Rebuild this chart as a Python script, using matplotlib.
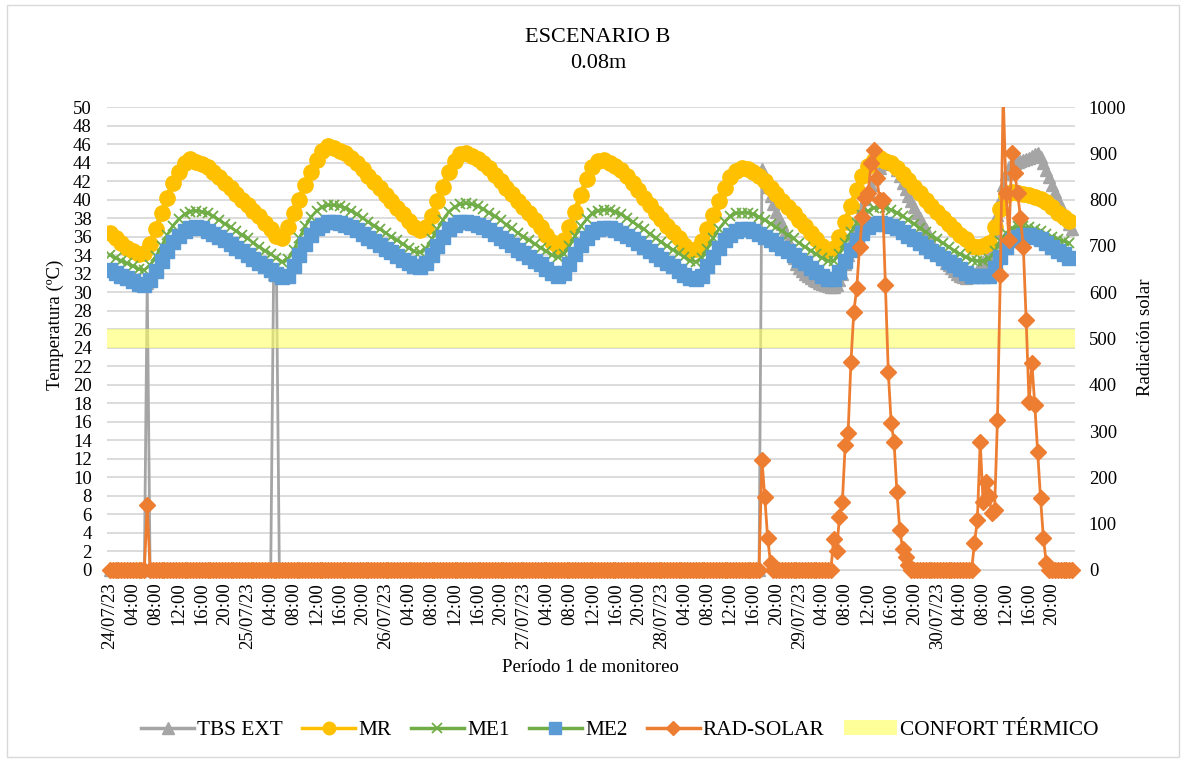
import matplotlib.pyplot as plt
from matplotlib.lines import Line2D
from matplotlib.patches import Patch, Rectangle
from matplotlib.transforms import Bbox, TransformedBbox

plt.rcParams['font.family'] = ['Liberation Serif', 'DejaVu Serif']

# fechas de las etiquetas del eje x (cada 4 horas)
days = ['24/07/23', '25/07/23', '26/07/23', '27/07/23', '28/07/23', '29/07/23', '30/07/23']
hour_marks = ['04:00', '08:00', '12:00', '16:00', '20:00']

# temperaturas horarias (ºC), 24/07 00:00 -> 30/07 23:00
mr = [36.4, 35.8, 35.3, 34.8, 34.4, 34.1, 34.2, 35.2, 36.8, 38.5, 40.2, 41.8,
      43.0, 44.0, 44.4, 44.1, 43.8, 43.5, 43.0, 42.4, 41.8, 41.2, 40.6, 40.0,
      39.4, 38.8, 38.2, 37.5, 36.8, 36.1, 35.9, 37.0, 38.5, 40.0, 41.6, 43.0,
      44.3, 45.3, 45.8, 45.6, 45.3, 45.0, 44.5, 44.0, 43.3, 42.6, 41.9, 41.2,
      40.5, 39.8, 39.1, 38.4, 37.7, 37.0, 36.7, 37.0, 38.2, 39.8, 41.4, 43.0,
      44.2, 44.9, 45.0, 44.7, 44.4, 44.0, 43.4, 42.7, 42.0, 41.3, 40.6, 39.9,
      39.2, 38.5, 37.8, 37.0, 36.2, 35.4, 35.0, 35.6, 37.0, 38.7, 40.5, 42.2,
      43.5, 44.2, 44.3, 44.0, 43.6, 43.2, 42.5, 41.8, 41.0, 40.2, 39.4, 38.6,
      37.9, 37.2, 36.5, 35.8, 35.1, 34.6, 34.7, 35.5, 36.8, 38.3, 39.8, 41.2,
      42.4, 43.1, 43.4, 43.3, 43.0, 42.6, 42.0, 41.3, 40.6, 39.9, 39.2, 38.5,
      37.8, 37.1, 36.4, 35.7, 35.0, 34.6, 34.8, 36.0, 37.6, 39.3, 41.0, 42.5,
      43.6, 44.3, 44.5, 44.2, 43.9, 43.4, 42.8, 42.1, 41.4, 40.7, 40.0, 39.3,
      38.7, 38.0, 37.4, 36.8, 36.2, 35.7, 35.0, 34.9, 35.0, 35.3, 37.0, 39.0,
      40.5, 40.8, 40.7, 40.6, 40.5, 40.3, 40.1, 39.7, 39.2, 38.6, 38.1, 37.7]

me1 = [34.0, 33.7, 33.4, 33.1, 32.8, 32.5, 32.4, 32.9, 33.9, 35.0, 36.2, 37.2,
       37.9, 38.4, 38.7, 38.8, 38.7, 38.5, 38.2, 37.8, 37.4, 37.0, 36.6, 36.2,
       35.8, 35.3, 34.9, 34.5, 34.1, 33.7, 33.3, 33.6, 34.6, 35.9, 37.1, 38.1,
       38.8, 39.2, 39.4, 39.4, 39.3, 39.1, 38.8, 38.4, 38.0, 37.6, 37.2, 36.8,
       36.4, 36.0, 35.6, 35.2, 34.8, 34.4, 34.3, 34.7, 35.7, 36.8, 37.8, 38.7,
       39.2, 39.5, 39.6, 39.5, 39.3, 39.0, 38.6, 38.2, 37.8, 37.3, 36.9, 36.4,
       36.0, 35.6, 35.2, 34.8, 34.4, 34.0, 33.8, 34.1, 35.0, 36.1, 37.1, 37.9,
       38.5, 38.8, 38.9, 38.9, 38.7, 38.4, 38.0, 37.6, 37.2, 36.8, 36.3, 35.9,
       35.4, 35.0, 34.6, 34.2, 33.8, 33.4, 33.3, 33.7, 34.7, 35.8, 36.8, 37.6,
       38.2, 38.5, 38.6, 38.6, 38.4, 38.1, 37.8, 37.4, 37.0, 36.6, 36.2, 35.8,
       35.3, 34.9, 34.5, 34.1, 33.7, 33.4, 33.4, 34.1, 35.3, 36.5, 37.5, 38.3,
       38.8, 39.1, 39.2, 39.1, 38.9, 38.6, 38.2, 37.8, 37.4, 36.9, 36.5, 36.1,
       35.7, 35.3, 34.9, 34.5, 34.1, 33.8, 33.5, 33.4, 33.4, 33.6, 34.4, 35.5,
       36.4, 36.9, 37.1, 37.1, 37.0, 36.8, 36.6, 36.3, 36.0, 35.7, 35.5, 35.3]

me2 = [32.4, 32.1, 31.8, 31.5, 31.2, 30.9, 30.8, 31.3, 32.3, 33.4, 34.5, 35.4,
       36.1, 36.6, 36.9, 37.0, 36.9, 36.6, 36.3, 36.0, 35.6, 35.2, 34.8, 34.4,
       34.0, 33.6, 33.2, 32.8, 32.4, 32.0, 31.6, 31.8, 32.8, 34.0, 35.2, 36.2,
       36.9, 37.3, 37.6, 37.6, 37.5, 37.3, 37.0, 36.7, 36.3, 35.9, 35.5, 35.1,
       34.7, 34.3, 33.9, 33.5, 33.1, 32.8, 32.7, 33.1, 34.0, 35.0, 36.0, 36.8,
       37.3, 37.6, 37.6, 37.5, 37.3, 37.0, 36.7, 36.3, 35.9, 35.5, 35.1, 34.6,
       34.2, 33.8, 33.4, 33.0, 32.5, 32.1, 31.8, 32.1, 33.0, 34.1, 35.1, 35.9,
       36.5, 36.8, 36.9, 36.9, 36.7, 36.4, 36.1, 35.7, 35.3, 34.9, 34.5, 34.0,
       33.6, 33.2, 32.8, 32.3, 31.9, 31.5, 31.4, 31.8, 32.8, 33.8, 34.8, 35.6,
       36.2, 36.6, 36.8, 36.8, 36.6, 36.3, 36.0, 35.6, 35.2, 34.8, 34.4, 34.0,
       33.5, 33.1, 32.6, 32.2, 31.8, 31.4, 31.4, 32.2, 33.4, 34.6, 35.6, 36.4,
       37.0, 37.4, 37.5, 37.4, 37.2, 36.9, 36.5, 36.1, 35.7, 35.3, 34.9, 34.5,
       34.1, 33.7, 33.3, 32.9, 32.5, 32.1, 31.8, 31.7, 31.7, 31.8, 32.6, 33.8,
       34.9, 35.6, 36.0, 36.2, 36.2, 36.0, 35.7, 35.3, 34.9, 34.5, 34.1, 33.7]

# datos cada 30 min (336 registros)
tbs_ext = [0, 0, 0, 0, 0, 0, 0, 0, 0, 0, 0, 0, 0, 31, 0, 0,
           0, 0, 0, 0, 0, 0, 0, 0, 0, 0, 0, 0, 0, 0, 0, 0,
           0, 0, 0, 0, 0, 0, 0, 0, 0, 0, 0, 0, 0, 0, 0, 0,
           0, 0, 0, 0, 0, 0, 0, 0, 0, 32, 32, 0, 0, 0, 0, 0,
           0, 0, 0, 0, 0, 0, 0, 0, 0, 0, 0, 0, 0, 0, 0, 0,
           0, 0, 0, 0, 0, 0, 0, 0, 0, 0, 0, 0, 0, 0, 0, 0,
           0, 0, 0, 0, 0, 0, 0, 0, 0, 0, 0, 0, 0, 0, 0, 0,
           0, 0, 0, 0, 0, 0, 0, 0, 0, 0, 0, 0, 0, 0, 0, 0,
           0, 0, 0, 0, 0, 0, 0, 0, 0, 0, 0, 0, 0, 0, 0, 0,
           0, 0, 0, 0, 0, 0, 0, 0, 0, 0, 0, 0, 0, 0, 0, 0,
           0, 0, 0, 0, 0, 0, 0, 0, 0, 0, 0, 0, 0, 0, 0, 0,
           0, 0, 0, 0, 0, 0, 0, 0, 0, 0, 0, 0, 0, 0, 0, 0,
           0, 0, 0, 0, 0, 0, 0, 0, 0, 0, 0, 0, 0, 0, 0, 0,
           0, 0, 0, 0, 0, 0, 0, 0, 0, 0, 0, 0, 0, 0, 0, 0,
           0, 0, 0, 43.3, 42.4, 41.4, 40.4, 39.5, 38.7, 38.0, 37.4, 36.5, 35.6, 34.6, 33.7, 33.0,
           32.6, 32.3, 32.0, 31.7, 31.5, 31.3, 31.2, 31.0, 30.9, 30.8, 30.7, 30.6, 30.6, 30.8, 31.3, 32.0,
           33.0, 34.0, 35.0, 36.1, 37.2, 38.2, 39.2, 40.1, 40.9, 41.6, 42.3, 42.9, 43.4, 43.8, 44.1, 44.3,
           44.2, 43.8, 43.2, 42.5, 41.8, 41.1, 40.4, 39.8, 39.2, 38.6, 38.0, 37.4, 36.8, 36.2, 35.4, 34.9,
           34.4, 34.0, 33.6, 33.2, 32.9, 32.6, 32.3, 32.0, 31.8, 31.6, 31.5, 31.6, 31.8, 32.0, 32.3, 32.8,
           33.3, 33.5, 33.9, 34.8, 36.5, 38.3, 40.0, 41.6, 42.8, 43.5, 43.9, 44.0, 44.1, 44.2, 44.3, 44.4,
           44.5, 44.7, 44.9, 45.0, 44.6, 43.9, 43.2, 42.4, 41.6, 40.8, 40.0, 39.3, 38.6, 38.0, 37.4, 36.8]

rad_solar = [0, 0, 0, 0, 0, 0, 0, 0, 0, 0, 0, 0, 0, 140, 0, 0,
             0, 0, 0, 0, 0, 0, 0, 0, 0, 0, 0, 0, 0, 0, 0, 0,
             0, 0, 0, 0, 0, 0, 0, 0, 0, 0, 0, 0, 0, 0, 0, 0,
             0, 0, 0, 0, 0, 0, 0, 0, 0, 0, 0, 0, 0, 0, 0, 0,
             0, 0, 0, 0, 0, 0, 0, 0, 0, 0, 0, 0, 0, 0, 0, 0,
             0, 0, 0, 0, 0, 0, 0, 0, 0, 0, 0, 0, 0, 0, 0, 0,
             0, 0, 0, 0, 0, 0, 0, 0, 0, 0, 0, 0, 0, 0, 0, 0,
             0, 0, 0, 0, 0, 0, 0, 0, 0, 0, 0, 0, 0, 0, 0, 0,
             0, 0, 0, 0, 0, 0, 0, 0, 0, 0, 0, 0, 0, 0, 0, 0,
             0, 0, 0, 0, 0, 0, 0, 0, 0, 0, 0, 0, 0, 0, 0, 0,
             0, 0, 0, 0, 0, 0, 0, 0, 0, 0, 0, 0, 0, 0, 0, 0,
             0, 0, 0, 0, 0, 0, 0, 0, 0, 0, 0, 0, 0, 0, 0, 0,
             0, 0, 0, 0, 0, 0, 0, 0, 0, 0, 0, 0, 0, 0, 0, 0,
             0, 0, 0, 0, 0, 0, 0, 0, 0, 0, 0, 0, 0, 0, 0, 0,
             0, 0, 0, 238, 158, 69, 15, 0, 0, 0, 0, 0, 0, 0, 0, 0,
             0, 0, 0, 0, 0, 0, 0, 0, 0, 0, 0, 0, 68, 40, 115, 147,
             270, 295, 450, 558, 608, 698, 763, 803, 814, 878, 907, 846, 800, 799, 616, 428,
             317, 277, 169, 86, 46, 28, 10, 0, 0, 0, 0, 0, 0, 0, 0, 0,
             0, 0, 0, 0, 0, 0, 0, 0, 0, 0, 0, 0, 0, 58, 108, 277,
             147, 190, 160, 123, 130, 324, 637, 1030, 815, 712, 900, 857, 815, 761, 698, 540,
             363, 447, 356, 255, 155, 69, 15, 0, 0, 0, 0, 0, 0, 0, 0, 0]

hours = list(range(len(mr)))
half_hours = [i / 2 for i in range(len(rad_solar))]

tick_pos = list(range(0, 168, 4))
tick_labels = []
for d in days:
    tick_labels += [d] + hour_marks

fig = plt.figure(figsize=(11.86, 7.62), dpi=100)
ax = fig.add_axes([107 / 1186, 192 / 762, 968 / 1186, 463 / 762])

# caja que deja ver los marcadores en cero por debajo del eje
clip = TransformedBbox(Bbox([[-0.02, -0.05], [1.02, 1.0]]), ax.transAxes)

l_tbs, = ax.plot(half_hours, tbs_ext, color='#A5A5A5', lw=2, marker='^', ms=9, zorder=2)
l_tbs.set_clip_box(clip)
ax.plot(hours, mr, color='#FFC000', lw=4, marker='o', ms=11, zorder=3)
ax.plot(hours, me1, color='#70AD47', lw=2, marker='x', ms=7, mew=1.3, zorder=4)
ax.plot(hours, me2, color='#5B9BD5', lw=4, marker='s', ms=10,
        mfc='#5B9BD5', mec='#5B9BD5', zorder=5)
ax.axhspan(24, 26, color='#FFFF66', alpha=0.6, lw=0, zorder=6)

ax.set_xlim(-0.5, 168)
ax.set_ylim(0, 50)
ax.set_yticks(range(0, 51, 2))
ax.set_xticks(tick_pos)
ax.set_xticklabels(tick_labels, rotation=90)
ax.yaxis.grid(True, color='#D9D9D9', lw=1.3)
ax.set_axisbelow(True)
for s in ['top', 'left', 'right']:
    ax.spines[s].set_visible(False)
ax.spines['bottom'].set_color('#D9D9D9')
ax.tick_params(axis='y', length=0, pad=11, labelsize=13.5)
ax.tick_params(axis='x', length=0, pad=9, labelsize=13.5)

ax2 = ax.twinx()
l_rad, = ax2.plot(half_hours, rad_solar, color='#ED7D31', lw=2, marker='D', ms=8, zorder=3)
l_rad.set_clip_box(clip)
ax2.set_ylim(0, 1000)
ax2.set_yticks(range(0, 1001, 100))
for s in ax2.spines.values():
    s.set_visible(False)
ax2.tick_params(axis='y', length=0, pad=10, labelsize=13.5)

# textos
fig.text(598 / 1186, 1 - 38 / 762, 'ESCENARIO B', ha='center', va='center', fontsize=16)
fig.text(598 / 1186, 1 - 63 / 762, '0.08m', ha='center', va='center', fontsize=16)
fig.text(55 / 1186, 1 - 325 / 762, 'Temperatura (ºC)', rotation=90,
         ha='center', va='center', fontsize=13.5)
fig.text(1145 / 1186, 1 - 337 / 762, 'Radiación solar', rotation=90,
         ha='center', va='center', fontsize=13.5)
fig.text(590 / 1186, 1 - 667 / 762, 'Período 1 de monitoreo',
         ha='center', va='center', fontsize=13.5)

handles = [
    Line2D([], [], color='#A5A5A5', lw=2.5, marker='^', ms=9),
    Line2D([], [], color='#FFC000', lw=2.5, marker='o', ms=9),
    Line2D([], [], color='#70AD47', lw=2.5, marker='x', ms=7, mew=1.3),
    Line2D([], [], color='#70AD47', lw=2.5, marker='s', ms=9, mfc='#5B9BD5', mec='#5B9BD5'),
    Line2D([], [], color='#ED7D31', lw=2.5, marker='D', ms=7),
    Patch(facecolor='#FFFF99', edgecolor='none'),
]
labels = ['TBS EXT', 'MR', 'ME1', 'ME2', 'RAD-SOLAR', 'CONFORT TÉRMICO']
fig.legend(handles, labels, loc='center left', bbox_to_anchor=(141 / 1186, 1 - 730 / 762),
           ncol=6, frameon=False, fontsize=15.3, handlelength=2.5,
           columnspacing=0.9, handletextpad=0.15, borderpad=0, borderaxespad=0)

fig.patches.append(Rectangle((0.006, 0.006), 0.988, 0.988, transform=fig.transFigure,
                             fill=False, ec='#D9D9D9', lw=1))

fig.savefig('out.png', dpi=100)
